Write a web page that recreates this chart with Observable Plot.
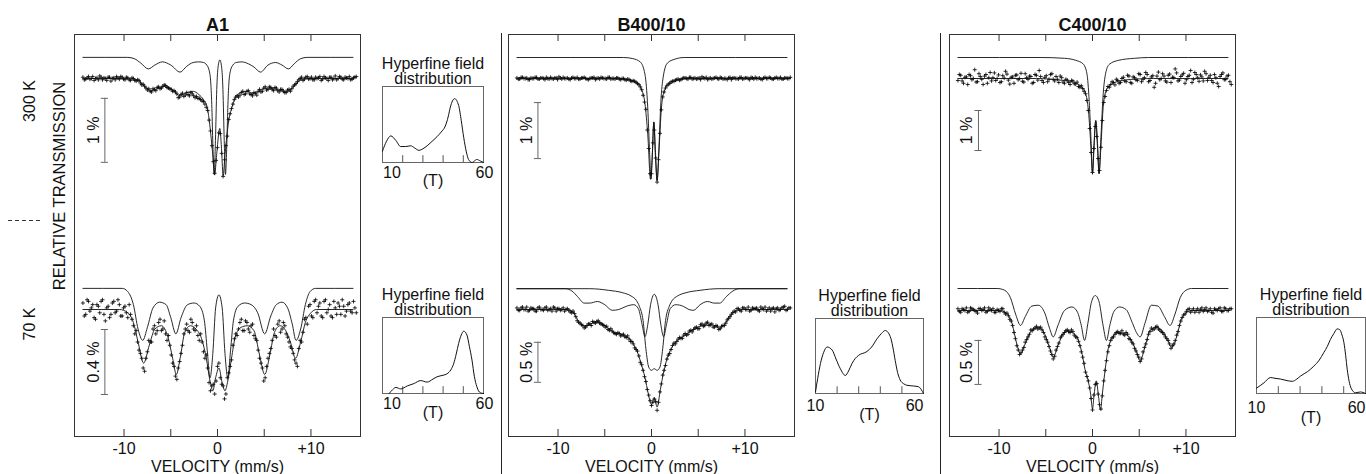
<!DOCTYPE html>
<html><head><meta charset="utf-8">
<script src="https://cdn.jsdelivr.net/npm/d3@7"></script>
<script src="https://cdn.jsdelivr.net/npm/@observablehq/plot@0.6"></script>
<style>
body{margin:0;background:#fff;}
#fig{position:relative;width:1366px;height:474px;overflow:hidden;background:#fff;font-family:"Liberation Sans",Arial,Helvetica,sans-serif;color:#111;}
#fig svg{position:absolute;overflow:visible;}
.rot{position:absolute;transform:translate(-50%,-50%) rotate(-90deg);white-space:nowrap;font-size:16px;line-height:1;}
</style></head><body><div id="fig"></div>
<script>
// ---------------- DATA ----------------
// measurement channels (mm/s): even and odd channels
const velocity = [-14.4,-14.1,-13.8,-13.5,-13.2,-12.9,-12.6,-12.3,-12.0,-11.7,-11.4,-11.1,-10.8,-10.5,-10.2,-9.9,-9.6,-9.3,-9.0,-8.7,-8.4,-8.1,-7.8,-7.5,-7.2,-6.9,-6.6,-6.3,-6.0,-5.7,-5.4,-5.1,-4.8,-4.5,-4.2,-3.9,-3.6,-3.3,-3.0,-2.7,-2.4,-2.1,-1.8,-1.5,-1.2,-0.9,-0.6,-0.3,0.0,0.3,0.6,0.9,1.2,1.5,1.8,2.1,2.4,2.7,3.0,3.3,3.6,3.9,4.2,4.5,4.8,5.1,5.4,5.7,6.0,6.3,6.6,6.9,7.2,7.5,7.8,8.1,8.4,8.7,9.0,9.3,9.6,9.9,10.2,10.5,10.8,11.1,11.4,11.7,12.0,12.3,12.6,12.9,13.2,13.5,13.8,14.1,14.4,14.7];
const velocityOdd = [-14.25,-13.95,-13.65,-13.35,-13.05,-12.75,-12.45,-12.15,-11.85,-11.55,-11.25,-10.95,-10.65,-10.35,-10.05,-9.75,-9.45,-9.15,-8.85,-8.55,-8.25,-7.95,-7.65,-7.35,-7.05,-6.75,-6.45,-6.15,-5.85,-5.55,-5.25,-4.95,-4.65,-4.35,-4.05,-3.75,-3.45,-3.15,-2.85,-2.55,-2.25,-1.95,-1.65,-1.35,-1.05,-0.75,-0.45,-0.15,0.15,0.45,0.75,1.05,1.35,1.65,1.95,2.25,2.55,2.85,3.15,3.45,3.75,4.05,4.35,4.65,4.95,5.25,5.55,5.85,6.15,6.45,6.75,7.05,7.35,7.65,7.95,8.25,8.55,8.85,9.15,9.45,9.75,10.05,10.35,10.65,10.95,11.25,11.55,11.85,12.15,12.45,12.75,13.05,13.35,13.65,13.95,14.25,14.55,14.85];

// relative transmission (%) measured points
const a1_300_data = [0.02,-0.01,0.03,0.0,-0.03,0.01,0.04,-0.02,0.0,0.02,-0.04,0.01,0.03,-0.01,0.02,-0.02,0.01,-0.03,0.0,-0.04,-0.03,-0.1,-0.12,-0.18,-0.2,-0.16,-0.19,-0.13,-0.15,-0.1,-0.14,-0.16,-0.2,-0.21,-0.3,-0.25,-0.28,-0.22,-0.27,-0.24,-0.3,-0.31,-0.33,-0.36,-0.45,-0.65,-1.05,-1.48,-1.08,-0.86,-1.53,-1.05,-0.64,-0.47,-0.33,-0.27,-0.26,-0.2,-0.24,-0.19,-0.25,-0.22,-0.26,-0.17,-0.2,-0.13,-0.17,-0.14,-0.19,-0.15,-0.21,-0.17,-0.22,-0.18,-0.2,-0.12,-0.08,-0.02,0.02,-0.01,0.03,0.0,-0.02,0.02,0.01,-0.03,0.03,0.0,0.02,-0.02,0.04,0.0,0.02,-0.02,0.01,0.03,-0.01,0.02];
const a1_300_dataOdd = [-0.02,0.01,-0.01,0.03,0.0,-0.02,0.02,0.01,-0.03,0.02,0.0,-0.02,0.01,0.03,-0.01,0.02,-0.02,0.01,-0.03,-0.02,-0.07,-0.09,-0.15,-0.16,-0.21,-0.17,-0.14,-0.16,-0.12,-0.11,-0.15,-0.17,-0.19,-0.24,-0.29,-0.23,-0.26,-0.25,-0.22,-0.27,-0.28,-0.31,-0.35,-0.4,-0.5,-0.82,-1.3,-1.28,-0.85,-1.17,-1.27,-0.9,-0.55,-0.4,-0.29,-0.29,-0.22,-0.25,-0.2,-0.24,-0.27,-0.23,-0.2,-0.21,-0.15,-0.18,-0.13,-0.17,-0.14,-0.19,-0.17,-0.2,-0.22,-0.17,-0.16,-0.1,-0.05,0.0,-0.03,0.02,-0.01,0.02,-0.02,0.0,0.03,-0.01,0.01,-0.03,0.02,0.0,-0.02,0.03,-0.01,0.02,0.0,-0.02,0.01,0.03];
const a1_70_data = [0.04,-0.03,0.05,0.01,-0.05,0.03,-0.02,0.06,-0.07,0.02,-0.03,0.05,-0.01,0.03,-0.04,0.02,-0.05,-0.03,-0.1,-0.13,-0.25,-0.3,-0.38,-0.26,-0.2,-0.12,-0.15,-0.08,-0.13,-0.07,-0.19,-0.22,-0.33,-0.41,-0.36,-0.27,-0.15,-0.09,-0.14,-0.08,-0.13,-0.16,-0.15,-0.26,-0.28,-0.45,-0.47,-0.52,-0.35,-0.42,-0.47,-0.52,-0.39,-0.31,-0.18,-0.16,-0.08,-0.13,-0.07,-0.12,-0.1,-0.16,-0.19,-0.3,-0.36,-0.42,-0.3,-0.24,-0.12,-0.17,-0.07,-0.12,-0.1,-0.17,-0.23,-0.27,-0.33,-0.24,-0.2,-0.06,-0.09,0.03,-0.05,0.06,0.02,-0.04,0.05,-0.02,0.03,-0.05,0.01,0.04,-0.03,0.02,-0.01,0.04,-0.02,0.01];
const a1_70_dataOdd = [-0.04,0.06,-0.01,0.03,-0.06,0.02,0.05,-0.03,0.01,-0.05,0.04,-0.02,0.06,-0.04,0.01,-0.02,0.03,-0.06,-0.15,-0.2,-0.27,-0.36,-0.3,-0.19,-0.2,-0.1,-0.13,-0.06,-0.12,-0.15,-0.16,-0.28,-0.35,-0.43,-0.32,-0.22,-0.12,-0.13,-0.06,-0.12,-0.1,-0.19,-0.2,-0.3,-0.36,-0.5,-0.46,-0.44,-0.33,-0.46,-0.55,-0.42,-0.35,-0.22,-0.15,-0.12,-0.06,-0.13,-0.08,-0.14,-0.09,-0.18,-0.25,-0.33,-0.44,-0.35,-0.27,-0.19,-0.16,-0.09,-0.14,-0.08,-0.15,-0.2,-0.24,-0.31,-0.35,-0.19,-0.14,-0.05,0.02,-0.04,0.05,-0.02,0.04,-0.05,0.06,0.0,-0.04,0.05,-0.03,0.02,0.06,-0.04,0.03,-0.01,0.05,-0.02];
const b_300_data = [0.01,-0.01,0.02,0.0,-0.02,0.01,0.0,0.02,-0.01,0.01,-0.02,0.0,0.02,-0.01,0.01,0.03,-0.01,0.0,0.01,-0.02,0.02,0.0,-0.01,0.01,0.02,-0.01,0.0,0.01,-0.02,0.01,0.02,0.0,-0.01,0.02,0.0,-0.01,0.01,-0.02,0.0,-0.03,-0.02,-0.05,-0.05,-0.09,-0.15,-0.3,-0.55,-1.25,-1.7,-0.92,-1.85,-0.98,-0.33,-0.17,-0.1,-0.06,-0.05,-0.02,-0.03,0.0,0.01,-0.01,0.02,0.0,-0.01,0.01,0.03,0.0,-0.02,0.01,0.0,0.02,-0.01,0.01,0.0,-0.02,0.02,0.01,0.0,-0.01,0.02,0.0,0.01,-0.02,0.01,0.02,0.0,-0.01,0.01,0.0,0.02,-0.01,0.01,0.0,0.02,-0.01,0.01,0.0];
const b_300_dataOdd = [-0.01,0.02,0.0,0.01,-0.02,0.0,0.02,-0.01,0.01,0.0,0.02,-0.01,0.0,0.01,-0.02,0.01,0.02,0.0,-0.01,0.01,0.0,0.02,-0.01,0.01,0.0,-0.02,0.01,0.02,0.0,-0.01,0.01,0.0,0.02,-0.01,0.0,0.01,-0.01,0.0,-0.02,-0.01,-0.04,-0.04,-0.07,-0.11,-0.2,-0.42,-0.92,-1.7,-1.15,-1.42,-1.45,-0.56,-0.24,-0.13,-0.09,-0.05,-0.03,-0.01,-0.02,0.01,0.0,0.02,-0.01,0.01,0.0,-0.02,0.01,0.02,0.0,-0.01,0.01,0.0,0.02,-0.01,0.0,0.01,-0.02,0.01,0.0,0.02,-0.01,0.01,0.0,0.02,-0.01,0.0,0.01,-0.02,0.02,0.0,0.01,-0.01,0.02,0.0,-0.01,0.01,0.0,0.02];
const b_70_data = [0.02,-0.01,0.03,0.0,-0.02,0.02,0.01,-0.02,0.03,0.0,0.02,-0.01,0.01,0.03,-0.02,0.01,0.0,-0.02,0.01,-0.03,-0.02,-0.09,-0.16,-0.19,-0.23,-0.2,-0.18,-0.15,-0.17,-0.14,-0.18,-0.2,-0.21,-0.26,-0.27,-0.3,-0.29,-0.33,-0.31,-0.35,-0.37,-0.4,-0.48,-0.52,-0.66,-0.76,-0.9,-1.07,-1.2,-1.12,-1.26,-1.03,-0.82,-0.7,-0.57,-0.5,-0.42,-0.4,-0.35,-0.36,-0.3,-0.31,-0.26,-0.25,-0.22,-0.24,-0.18,-0.2,-0.16,-0.19,-0.22,-0.2,-0.25,-0.21,-0.2,-0.13,-0.09,-0.04,-0.03,0.01,-0.02,0.02,0.0,-0.02,0.02,0.01,-0.01,0.03,0.0,-0.02,0.02,0.01,-0.03,0.02,0.0,0.03,-0.01,0.02];
const b_70_dataOdd = [-0.01,0.02,0.0,0.03,-0.01,0.01,-0.02,0.02,0.0,-0.01,0.03,0.0,-0.02,0.02,0.01,-0.01,0.02,0.0,-0.01,-0.04,-0.05,-0.14,-0.17,-0.2,-0.22,-0.18,-0.2,-0.16,-0.15,-0.17,-0.19,-0.22,-0.25,-0.24,-0.29,-0.31,-0.3,-0.32,-0.34,-0.33,-0.4,-0.43,-0.5,-0.58,-0.69,-0.84,-1.0,-1.14,-1.16,-1.15,-1.16,-0.93,-0.76,-0.62,-0.55,-0.45,-0.43,-0.37,-0.36,-0.32,-0.32,-0.27,-0.28,-0.23,-0.24,-0.19,-0.21,-0.17,-0.2,-0.18,-0.22,-0.21,-0.24,-0.2,-0.17,-0.11,-0.06,-0.02,0.01,-0.01,0.02,0.0,0.03,-0.01,0.01,0.02,-0.02,0.01,0.03,0.0,-0.02,0.02,0.01,-0.01,0.02,0.04,0.0,0.02];
const c_300_data = [-0.05,0.08,-0.12,0.04,0.1,-0.03,0.22,-0.08,0.05,-0.15,0.1,0.02,-0.06,0.14,0.0,-0.1,0.07,0.18,-0.04,0.03,-0.12,0.09,0.0,-0.07,0.12,-0.02,0.05,-0.1,0.08,0.2,-0.05,0.03,-0.08,0.1,-0.02,0.05,-0.1,0.02,-0.12,-0.04,-0.15,-0.06,-0.14,-0.2,-0.18,-0.32,-0.55,-1.25,-2.35,-1.2,-2.0,-1.72,-0.6,-0.3,-0.22,-0.08,-0.16,-0.05,-0.1,0.03,-0.08,0.06,-0.12,0.02,-0.05,0.1,-0.02,0.15,-0.08,0.04,-0.22,0.06,-0.03,0.12,-0.06,0.08,-0.1,0.02,0.14,-0.04,0.09,-0.12,0.05,0.2,-0.02,0.1,-0.07,0.04,0.18,-0.05,0.08,-0.1,0.02,-0.2,0.1,-0.03,0.06,-0.08];
const c_300_dataOdd = [0.1,-0.06,0.03,-0.15,0.07,0.0,-0.09,0.12,-0.02,0.06,-0.12,0.15,0.02,-0.05,0.09,-0.08,0.01,0.11,-0.14,0.04,0.08,-0.03,0.13,-0.09,0.02,0.06,-0.12,0.1,-0.04,0.05,-0.1,0.07,-0.02,0.12,-0.06,-0.02,0.06,-0.09,-0.02,-0.1,-0.05,-0.13,-0.09,-0.22,-0.25,-0.38,-0.8,-1.85,-1.75,-1.45,-2.3,-1.05,-0.45,-0.2,-0.15,-0.1,-0.02,-0.12,0.0,-0.06,0.08,-0.1,0.04,-0.03,0.12,-0.08,0.02,0.1,-0.05,0.07,-0.12,0.16,0.0,0.06,-0.09,0.11,0.03,0.24,-0.06,0.05,0.13,-0.03,0.08,-0.1,0.15,0.02,0.09,-0.06,0.12,0.03,-0.05,0.1,-0.12,0.05,0.14,-0.02,0.08,-0.15];
const c_70_data = [0.02,-0.02,0.01,0.03,-0.01,0.02,0.0,-0.03,0.02,0.01,-0.02,0.03,0.0,-0.02,0.01,-0.01,0.02,-0.04,-0.06,-0.12,-0.25,-0.4,-0.5,-0.45,-0.36,-0.3,-0.22,-0.21,-0.18,-0.2,-0.22,-0.3,-0.36,-0.46,-0.55,-0.45,-0.37,-0.29,-0.25,-0.22,-0.25,-0.24,-0.3,-0.35,-0.47,-0.6,-0.75,-0.88,-1.13,-0.84,-0.95,-1.12,-0.8,-0.57,-0.4,-0.31,-0.27,-0.24,-0.26,-0.27,-0.25,-0.32,-0.36,-0.43,-0.5,-0.58,-0.47,-0.38,-0.27,-0.2,-0.21,-0.18,-0.22,-0.25,-0.3,-0.34,-0.43,-0.38,-0.28,-0.17,-0.08,-0.04,0.01,-0.02,0.02,0.0,-0.02,0.03,0.01,-0.01,0.02,-0.03,0.01,0.02,-0.01,0.03,0.0,0.02];
const c_70_dataOdd = [-0.01,0.02,0.0,-0.02,0.03,0.01,-0.01,0.02,0.0,0.03,-0.01,0.01,0.02,-0.02,0.0,0.02,-0.02,-0.03,-0.1,-0.17,-0.32,-0.45,-0.48,-0.42,-0.33,-0.27,-0.23,-0.2,-0.21,-0.19,-0.25,-0.33,-0.41,-0.5,-0.52,-0.41,-0.31,-0.27,-0.23,-0.24,-0.22,-0.28,-0.31,-0.4,-0.53,-0.7,-0.8,-1.0,-0.96,-0.83,-1.07,-0.97,-0.68,-0.47,-0.34,-0.3,-0.25,-0.26,-0.23,-0.28,-0.27,-0.33,-0.38,-0.46,-0.53,-0.55,-0.42,-0.33,-0.24,-0.22,-0.19,-0.21,-0.24,-0.27,-0.32,-0.38,-0.4,-0.34,-0.24,-0.12,-0.05,-0.01,0.02,0.0,-0.02,0.02,0.01,-0.01,0.03,0.0,-0.02,0.02,0.0,0.03,-0.01,0.02,0.0,0.02];

// fitted curves [velocity, %]
const a1_300_fit = [[-14.4,0],[-10,0],[-9,-0.01],[-8.3,-0.05],[-7.6,-0.15],[-7.0,-0.19],[-6.3,-0.15],[-5.5,-0.12],[-4.8,-0.18],[-4.0,-0.27],[-3.3,-0.22],[-2.6,-0.2],[-2.0,-0.25],[-1.5,-0.33],[-1.1,-0.45],[-0.8,-0.76],[-0.55,-1.12],[-0.3,-1.5],[-0.1,-1.2],[0.25,-0.78],[0.45,-1.15],[0.6,-1.52],[0.8,-1.2],[0.95,-0.97],[1.2,-0.66],[1.55,-0.45],[1.9,-0.3],[2.5,-0.22],[3.2,-0.2],[3.9,-0.24],[4.5,-0.19],[5.2,-0.15],[6.0,-0.16],[6.8,-0.19],[7.5,-0.2],[8.2,-0.12],[8.8,-0.03],[9.5,0],[14.5,0]];
const a1_300_sub = [[-14.4,0],[-9.6,0],[-8.9,-0.02],[-8.2,-0.09],[-7.4,-0.18],[-6.7,-0.12],[-5.9,-0.07],[-5.0,-0.12],[-4.0,-0.23],[-3.3,-0.14],[-2.6,-0.08],[-2.0,-0.07],[-1.5,-0.08],[-1.15,-0.12],[-0.9,-0.2],[-0.72,-0.4],[-0.6,-0.8],[-0.5,-1.35],[-0.35,-1.83],[-0.22,-1.3],[-0.08,-0.5],[0.06,-0.15],[0.25,-0.04],[0.44,-0.15],[0.58,-0.5],[0.72,-1.3],[0.85,-1.83],[1.0,-1.35],[1.1,-0.8],[1.22,-0.4],[1.4,-0.2],[1.65,-0.12],[2.0,-0.08],[2.6,-0.07],[3.3,-0.1],[3.9,-0.15],[4.6,-0.23],[5.4,-0.12],[6.2,-0.08],[6.9,-0.12],[7.6,-0.18],[8.2,-0.1],[8.9,-0.02],[9.6,0],[14.5,0]];
const a1_70_fit = [[-14.4,0],[-10.5,0],[-9.6,-0.02],[-9.0,-0.08],[-8.5,-0.2],[-7.9,-0.33],[-7.3,-0.22],[-6.7,-0.12],[-6.0,-0.1],[-5.3,-0.17],[-4.8,-0.3],[-4.4,-0.4],[-4.0,-0.3],[-3.5,-0.14],[-2.9,-0.1],[-2.3,-0.12],[-1.7,-0.18],[-1.2,-0.3],[-0.8,-0.44],[-0.5,-0.5],[-0.2,-0.42],[0.15,-0.36],[0.5,-0.45],[0.8,-0.5],[1.1,-0.44],[1.5,-0.3],[1.9,-0.17],[2.5,-0.11],[3.2,-0.1],[3.9,-0.13],[4.5,-0.28],[5.05,-0.4],[5.6,-0.28],[6.1,-0.14],[6.7,-0.1],[7.3,-0.13],[7.8,-0.2],[8.35,-0.3],[8.9,-0.2],[9.4,-0.08],[10.0,-0.02],[10.6,0],[14.5,0]];
const a1_70_sub = [[-14.4,0],[-10.2,0],[-9.6,-0.02],[-9.0,-0.1],[-8.5,-0.25],[-8.0,-0.32],[-7.5,-0.24],[-6.9,-0.12],[-6.2,-0.085],[-5.5,-0.1],[-5.0,-0.18],[-4.45,-0.28],[-3.9,-0.18],[-3.2,-0.1],[-2.5,-0.09],[-1.9,-0.11],[-1.4,-0.2],[-1.1,-0.38],[-0.8,-0.55],[-0.5,-0.4],[-0.2,-0.12],[0.15,-0.04],[0.5,-0.12],[0.8,-0.4],[1.1,-0.55],[1.4,-0.38],[1.7,-0.2],[2.2,-0.11],[2.9,-0.09],[3.6,-0.1],[4.3,-0.15],[5.05,-0.28],[5.7,-0.17],[6.3,-0.1],[6.9,-0.085],[7.5,-0.12],[8.0,-0.22],[8.4,-0.32],[8.9,-0.25],[9.4,-0.1],[9.9,-0.02],[10.5,0],[14.5,0]];
const b_300_fit = [[-14.4,0],[-4,0],[-2.5,-0.02],[-1.6,-0.07],[-1.1,-0.18],[-0.7,-0.45],[-0.4,-1.0],[-0.1,-1.8],[0.05,-1.5],[0.25,-0.78],[0.45,-1.4],[0.6,-1.82],[0.8,-1.3],[1.05,-0.55],[1.3,-0.26],[1.8,-0.1],[2.7,-0.03],[4,0],[14.5,0]];
const b_300_sub = [[-14.4,0],[-3,0],[-2,-0.02],[-1.2,-0.08],[-0.7,-0.3],[-0.4,-0.9],[-0.2,-1.7],[-0.05,-2.17],[0.1,-1.7],[0.25,-1.15],[0.4,-1.7],[0.6,-2.2],[0.8,-1.6],[1.0,-0.8],[1.25,-0.35],[1.7,-0.1],[2.5,-0.03],[3.5,0],[14.5,0]];
const b_70_fit = [[-14.4,0],[-9.0,0],[-8.4,-0.03],[-7.8,-0.15],[-7.1,-0.21],[-6.3,-0.17],[-5.5,-0.16],[-4.8,-0.22],[-4.1,-0.28],[-3.3,-0.31],[-2.6,-0.34],[-2.0,-0.42],[-1.55,-0.52],[-1.1,-0.68],[-0.7,-0.85],[-0.35,-1.05],[0.0,-1.19],[0.3,-1.1],[0.6,-1.22],[0.95,-1.0],[1.3,-0.78],[1.7,-0.6],[2.2,-0.47],[2.8,-0.38],[3.5,-0.33],[4.2,-0.27],[4.8,-0.23],[5.4,-0.2],[6.0,-0.18],[6.7,-0.2],[7.3,-0.23],[7.8,-0.19],[8.4,-0.08],[9.0,-0.02],[9.7,0],[14.5,0]];
const b_70_sub1 = [[-14.4,0],[-9.2,0],[-8.5,-0.03],[-7.9,-0.1],[-7.2,-0.18],[-6.6,-0.18],[-5.8,-0.16],[-5.0,-0.2],[-4.2,-0.27],[-3.5,-0.26],[-2.7,-0.22],[-1.9,-0.2],[-1.4,-0.25],[-1.0,-0.45],[-0.7,-0.6],[-0.4,-0.45],[-0.1,-0.2],[0.3,-0.07],[0.7,-0.2],[1.0,-0.45],[1.3,-0.6],[1.6,-0.45],[2.0,-0.25],[2.6,-0.2],[3.4,-0.22],[4.0,-0.26],[4.5,-0.27],[5.2,-0.2],[6.0,-0.16],[6.7,-0.18],[7.3,-0.18],[8.0,-0.1],[8.7,-0.03],[9.4,0],[14.5,0]];
const b_70_sub2 = [[-14.4,0],[-6.6,0],[-4.6,-0.02],[-3.1,-0.05],[-2.2,-0.09],[-1.6,-0.15],[-1.3,-0.22],[-0.9,-0.4],[-0.6,-0.75],[-0.3,-0.98],[0.0,-1.02],[0.3,-1.0],[0.6,-1.02],[0.9,-0.98],[1.2,-0.75],[1.5,-0.4],[1.9,-0.22],[2.2,-0.15],[2.8,-0.09],[3.7,-0.05],[5.2,-0.02],[7.2,0],[14.5,0]];
const c_300_fit = [[-14.4,0],[-6,0],[-3.5,-0.04],[-2.2,-0.08],[-1.2,-0.2],[-0.7,-0.4],[-0.4,-0.9],[-0.15,-1.8],[0.0,-2.38],[0.15,-1.8],[0.35,-1.05],[0.55,-1.8],[0.7,-2.38],[0.9,-1.7],[1.15,-0.7],[1.5,-0.28],[2.2,-0.12],[3.2,-0.05],[5,-0.01],[6.5,0],[14.5,0]];
const c_300_sub = [[-14.4,0],[-5.5,0],[-3,-0.02],[-1.8,-0.07],[-1.0,-0.16],[-0.6,-0.4],[-0.35,-1.1],[-0.15,-2.1],[0.0,-2.9],[0.15,-2.2],[0.35,-1.58],[0.55,-2.2],[0.7,-2.9],[0.9,-2.0],[1.15,-0.9],[1.45,-0.35],[1.8,-0.17],[2.8,-0.07],[4.5,-0.02],[6,0],[14.5,0]];
const c_70_fit = [[-14.4,0],[-10,0],[-9.2,-0.03],[-8.6,-0.15],[-8.1,-0.38],[-7.7,-0.49],[-7.2,-0.38],[-6.6,-0.24],[-5.8,-0.19],[-5.1,-0.27],[-4.6,-0.42],[-4.2,-0.53],[-3.7,-0.4],[-3.1,-0.26],[-2.6,-0.23],[-2.0,-0.26],[-1.5,-0.34],[-1.1,-0.5],[-0.8,-0.67],[-0.5,-0.78],[-0.2,-0.95],[0.0,-1.12],[0.15,-0.98],[0.4,-0.8],[0.65,-0.98],[0.85,-1.13],[1.05,-0.95],[1.3,-0.72],[1.6,-0.48],[2.0,-0.33],[2.7,-0.25],[3.4,-0.26],[4.0,-0.31],[4.6,-0.44],[5.1,-0.57],[5.6,-0.42],[6.2,-0.22],[6.9,-0.19],[7.5,-0.24],[8.0,-0.33],[8.5,-0.42],[9.0,-0.3],[9.5,-0.1],[10.1,-0.02],[10.8,0],[14.5,0]];
const c_70_sub = [[-14.4,0],[-10.2,0],[-9.4,-0.02],[-8.8,-0.1],[-8.2,-0.3],[-7.7,-0.42],[-7.2,-0.32],[-6.5,-0.2],[-5.8,-0.19],[-5.1,-0.28],[-4.6,-0.45],[-4.2,-0.55],[-3.7,-0.42],[-3.0,-0.25],[-2.2,-0.21],[-1.6,-0.27],[-1.2,-0.42],[-0.85,-0.59],[-0.5,-0.4],[-0.1,-0.15],[0.3,-0.08],[0.7,-0.15],[1.1,-0.4],[1.5,-0.59],[1.85,-0.42],[2.3,-0.26],[2.9,-0.21],[3.6,-0.24],[4.3,-0.4],[4.7,-0.5],[5.1,-0.55],[5.6,-0.4],[6.3,-0.19],[7.0,-0.2],[7.7,-0.32],[8.3,-0.42],[8.8,-0.3],[9.4,-0.1],[10.0,-0.02],[10.6,0],[14.5,0]];

// hyperfine field distributions [T, relative probability]
const a1_300_hf = [[10,0.15],[12,0.28],[14.1,0.35],[16.6,0.29],[19,0.21],[21.5,0.21],[23.9,0.22],[26,0.19],[28,0.16],[30,0.18],[32.1,0.22],[35,0.29],[37,0.34],[39,0.4],[41.1,0.48],[42.5,0.6],[43.6,0.73],[45.7,0.84],[47.7,0.75],[49,0.55],[50.2,0.33],[51.5,0.14],[52.6,0.04],[54.3,0],[55.5,0.02],[56.7,0.04],[58.4,0.02],[60,0]];
const a1_70_hf = [[13.3,0],[15,0.05],[16.6,0.08],[19,0.06],[22.3,0.1],[25.5,0.13],[28.9,0.17],[32.1,0.15],[35,0.19],[37,0.22],[40,0.24],[42,0.26],[43.8,0.31],[45.2,0.39],[46.5,0.52],[47.7,0.66],[49,0.77],[50.2,0.82],[51.8,0.77],[53,0.62],[54.3,0.44],[55.5,0.22],[56.7,0.09],[58.4,0.01],[60,0]];
const b_70_hf = [[10,0.02],[11,0.2],[12.3,0.4],[13.8,0.55],[15.4,0.62],[17.7,0.58],[19.5,0.46],[21.5,0.33],[23.8,0.24],[25.3,0.3],[26.9,0.4],[28.5,0.47],[30,0.51],[33.8,0.56],[36,0.62],[38.5,0.73],[40.5,0.8],[42.3,0.84],[44.6,0.76],[45.8,0.62],[46.9,0.44],[48,0.28],[49.2,0.18],[50.8,0.13],[52.3,0.11],[55.4,0.1],[57.7,0.09],[59,0.05],[60,0]];
const c_70_hf = [[10,0.07],[13.4,0.14],[16.4,0.21],[18.5,0.2],[21,0.19],[24,0.17],[26.4,0.16],[28.5,0.19],[30.2,0.23],[33.5,0.29],[36.3,0.36],[38.8,0.44],[40.9,0.54],[42.5,0.62],[43.9,0.71],[45.5,0.79],[47,0.85],[48.2,0.84],[49.2,0.77],[50.1,0.67],[50.9,0.5],[51.6,0.32],[52.5,0.16],[53.4,0.07],[55.4,0.01],[57.7,0.02],[60,0]];

// labels / ticks
const sampleTitles = ["A1", "B400/10", "C400/10"];
const temperatures = ["300 K", "70 K"];
const velocityTicks = [-10, -5, 0, 5, 10];
const velocityTickLabels = [-10, 0, 10];
const fieldTicks = [20, 30, 40, 50];

// ---------------- LAYOUT ----------------
const FONT = '"Liberation Sans", Arial, Helvetica, sans-serif';
const INK = "#111";
const fig = document.getElementById("fig");
const XDOM = [-15.3, 15.3];
const PW = 286;
const FTOP = 34, FBOT = 436;
const MID = 235;
const panels = [{left: 74}, {left: 508}, {left: 949}];

const spectra = [
  {p:0, band:[FTOP, MID], base:78,  k:64,    off:0.33,  fit:a1_300_fit, subs:[a1_300_sub], data:[a1_300_data, a1_300_dataOdd], bar:{x:-12.05, y1:-0.31, y2:-1.31, label:"1 %"}},
  {p:0, band:[MID, FBOT], base:309, k:162.5, off:0.13,  fit:a1_70_fit,  subs:[a1_70_sub],  data:[a1_70_data, a1_70_dataOdd],   bar:{x:-12.05, y1:-0.123, y2:-0.523, label:"0.4 %"}},
  {p:1, band:[FTOP, MID], base:78,  k:56,    off:0.375, fit:b_300_fit,  subs:[b_300_sub],  data:[b_300_data, b_300_dataOdd],   bar:{x:-12.15, y1:-0.43, y2:-1.43, label:"1 %"}},
  {p:1, band:[MID, FBOT], base:309, k:80,    off:0.26,  fit:b_70_fit,   subs:[b_70_sub1, b_70_sub2], data:[b_70_data, b_70_dataOdd], bar:{x:-12.15, y1:-0.41, y2:-0.91, label:"0.5 %"}},
  {p:2, band:[FTOP, MID], base:78,  k:40,    off:0.525, fit:c_300_fit,  subs:[c_300_sub],  data:[c_300_data, c_300_dataOdd],   bar:{x:-12.2, y1:-0.8, y2:-1.8, label:"1 %"}},
  {p:2, band:[MID, FBOT], base:310, k:88,    off:0.25,  fit:c_70_fit,   subs:[c_70_sub],   data:[c_70_data, c_70_dataOdd],     bar:{x:-12.2, y1:-0.34, y2:-0.84, label:"0.5 %"}}
];

const insets = [
  {left:382, top:86,  w:101, h:76, dist:a1_300_hf, ten:{t:10.3, a:"start"}, sixty:{t:60.5, a:"middle"}, nb:15, tb:23},
  {left:382, top:317, w:101, h:76, dist:a1_70_hf,  ten:{t:10.3, a:"start"}, sixty:{t:60.5, a:"middle"}, nb:15, tb:24},
  {left:815, top:318, w:108, h:75, dist:b_70_hf,   ten:{t:10, a:"middle"},  sixty:{t:60, a:"end"},      nb:17, tb:26},
  {left:1256,top:317, w:109, h:76, dist:c_70_hf,   ten:{t:10, a:"middle"},  sixty:{t:60, a:"end"},      nb:19, tb:29}
];

function place(svg, left, top) {
  svg.style.left = left + "px";
  svg.style.top = top + "px";
  fig.appendChild(svg);
}
const baseStyle = {background: "transparent", overflow: "visible", fontFamily: FONT, fontSize: "16px", color: INK};

// decorations: separators and dashed mark
const deco = d3.create("svg").attr("width", 1366).attr("height", 474).style("left", "0px").style("top", "0px");
deco.append("line").attr("x1", 501.5).attr("x2", 501.5).attr("y1", 33).attr("y2", 474).attr("stroke", "#222");
deco.append("line").attr("x1", 940.5).attr("x2", 940.5).attr("y1", 33).attr("y2", 474).attr("stroke", "#222");
deco.append("line").attr("x1", 8).attr("x2", 42).attr("y1", 220.5).attr("y2", 220.5).attr("stroke", "#333").attr("stroke-dasharray", "4,3");
fig.appendChild(deco.node());

function rotLabel(text, cx, cy, size) {
  const d = document.createElement("div");
  d.className = "rot"; d.textContent = text;
  d.style.left = cx + "px"; d.style.top = cy + "px"; d.style.fontSize = size + "px";
  fig.appendChild(d);
}
rotLabel("RELATIVE TRANSMISSION", 59, 186, 16.5);
rotLabel(temperatures[0], 30, 101, 16);
rotLabel(temperatures[1], 30, 324, 16);

// panel frames with axes
panels.forEach((pn, i) => {
  const svg = Plot.plot({
    width: PW, height: FBOT + 40, marginTop: FTOP, marginBottom: 40, marginLeft: 0, marginRight: 0,
    x: {domain: XDOM}, y: {domain: [0, FBOT - FTOP], axis: null},
    style: baseStyle,
    marks: [
      Plot.frame({stroke: "#333"}),
      Plot.ruleX(velocityTicks, {y1: 0, y2: 7, stroke: "#333"}),
      Plot.ruleX(velocityTicks, {y1: FBOT - FTOP - 7, y2: FBOT - FTOP, stroke: "#333"}),
      Plot.axisX(velocityTickLabels, {tickSize: 0, tickPadding: 6, fontSize: 16, label: null, tickFormat: d => d > 0 ? "+" + d : String(d)}),
      Plot.text(["VELOCITY (mm/s)"], {frameAnchor: "bottom", dy: 30, lineAnchor: "middle", fontSize: 16, fill: INK}),
      Plot.text([sampleTitles[i]], {frameAnchor: "top", dy: -9, lineAnchor: "middle", fontSize: 18, fontWeight: "bold", fill: INK})
    ]
  });
  place(svg, pn.left, 0);
});

// spectra
spectra.forEach(s => {
  const [bt, bb] = s.band;
  const hi = (s.base - bt) / s.k, lo = -(bb - s.base) / s.k;
  const pts = s.data[0].map((y, i) => ({v: velocity[i], y}))
    .concat(s.data[1].map((y, i) => ({v: velocityOdd[i], y})))
    .filter(d => d.v !== undefined);
  const marks = [];
  s.subs.forEach(c => marks.push(Plot.line(c, {x: d => d[0], y: d => d[1] + s.off, curve: "monotone-x", stroke: INK, strokeWidth: 0.9})));
  marks.push(Plot.dot(pts, {x: "v", y: "y", symbol: "plus", r: 1.4, stroke: "#000", strokeWidth: 0.8}));
  marks.push(Plot.line(s.fit, {x: d => d[0], y: d => d[1], curve: "monotone-x", stroke: INK, strokeWidth: 0.9}));
  const b = s.bar;
  marks.push(Plot.ruleX([b.x], {y1: b.y1, y2: b.y2, stroke: "#666"}));
  marks.push(Plot.ruleY([b.y1, b.y2], {x1: b.x - 0.38, x2: b.x + 0.38, stroke: "#666"}));
  marks.push(Plot.text([b.label], {x: b.x - 1.2, y: (b.y1 + b.y2) / 2, rotate: -90, lineAnchor: "middle", fontSize: 16, fill: INK}));
  const svg = Plot.plot({
    width: PW, height: bb - bt, margin: 0,
    x: {domain: XDOM, axis: null}, y: {domain: [lo, hi], axis: null},
    style: baseStyle, marks
  });
  place(svg, panels[s.p].left, bt);
});

// hyperfine field distribution insets
insets.forEach(ins => {
  const mL = 15, mR = 15, mT = 32, mB = 36;
  const svg = Plot.plot({
    width: ins.w + mL + mR, height: ins.h + mT + mB,
    marginLeft: mL, marginRight: mR, marginTop: mT, marginBottom: mB,
    x: {domain: [10, 60], axis: null}, y: {domain: [0, 1], axis: null},
    style: baseStyle,
    marks: [
      Plot.frame({stroke: "#666"}),
      Plot.ruleX(fieldTicks, {y1: 0, y2: 0.09, stroke: "#555"}),
      Plot.line(ins.dist, {x: d => d[0], y: d => d[1], curve: "monotone-x", stroke: INK, strokeWidth: 1}),
      Plot.text(["Hyperfine field"], {frameAnchor: "top", dy: -23, lineAnchor: "middle", fontSize: 16, fill: INK}),
      Plot.text(["distribution"], {frameAnchor: "top", dy: -8, lineAnchor: "middle", fontSize: 16, fill: INK}),
      Plot.text(["10"], {x: ins.ten.t, frameAnchor: "bottom", dy: ins.nb - 5, lineAnchor: "middle", textAnchor: ins.ten.a, fontSize: 16, fill: INK}),
      Plot.text(["60"], {x: ins.sixty.t, frameAnchor: "bottom", dy: ins.nb - 5, lineAnchor: "middle", textAnchor: ins.sixty.a, fontSize: 16, fill: INK}),
      Plot.text(["(T)"], {x: 35, frameAnchor: "bottom", dy: ins.tb - 5, lineAnchor: "middle", fontSize: 16, fill: INK})
    ]
  });
  place(svg, ins.left - mL, ins.top - mT);
});
</script></body></html>
